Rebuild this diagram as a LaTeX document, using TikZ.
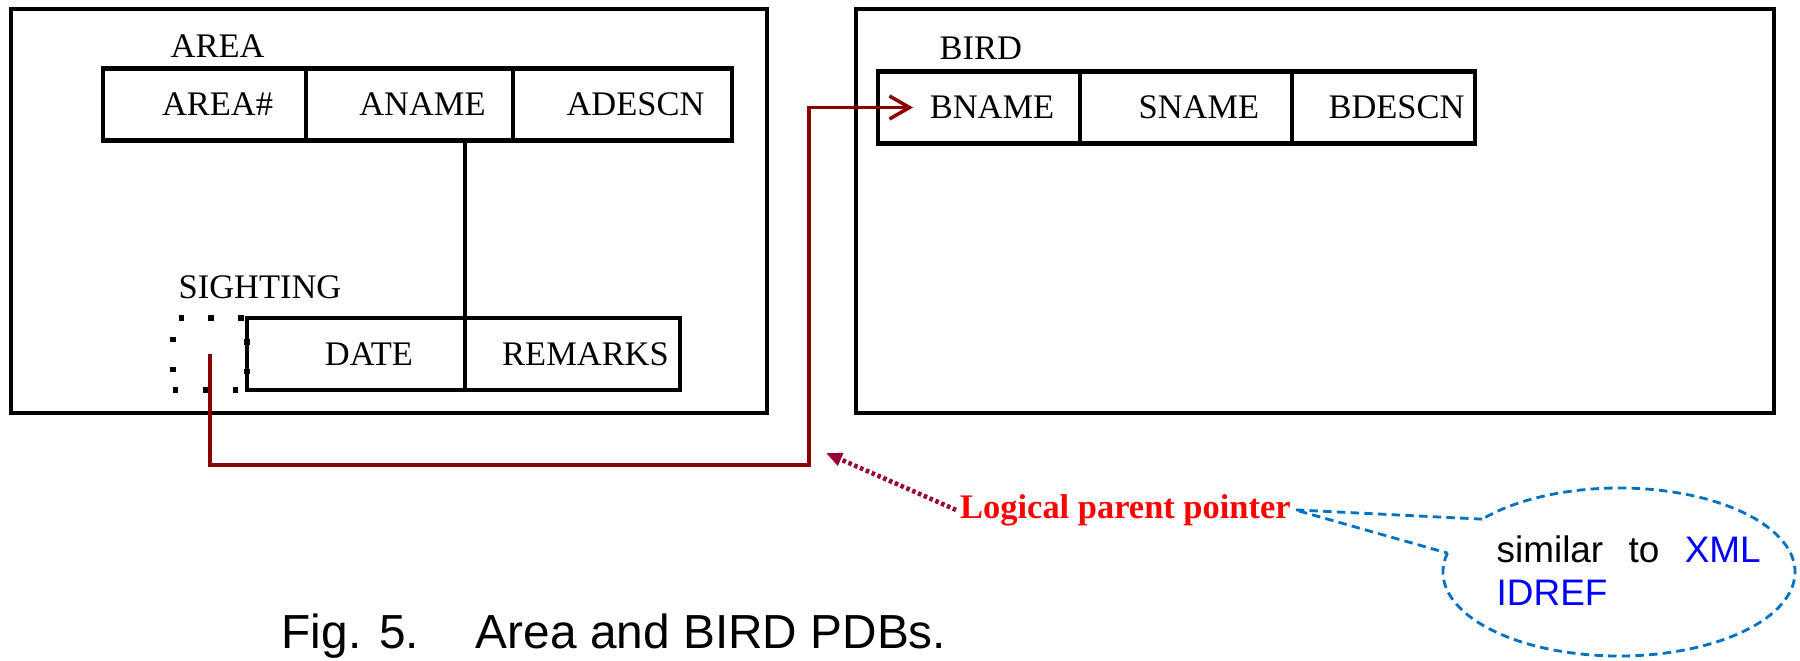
\documentclass[tikz,border=0pt]{standalone}
\usepackage{fontspec}
\setmainfont{Liberation Serif}
\newfontfamily\arialfont{Liberation Sans}
\usetikzlibrary{positioning,arrows.meta,shapes.geometric}
\definecolor{linkred}{RGB}{139,0,0}
\definecolor{ptrred}{RGB}{153,0,51}
\definecolor{calloutblue}{RGB}{0,112,192}

\begin{document}
\begin{tikzpicture}[
    cell/.style ={rectangle, draw, line width=1.4pt, outer sep=0pt, inner sep=0pt, minimum height=0.72cm, font=\fontsize{9.8}{12}\selectfont, execute at begin node={\hspace*{0.26cm}}},
    segname/.style ={inner sep=0pt, anchor=west, font=\fontsize{9.8}{12}\selectfont},
    callout/.style ={calloutblue, line width=0.8pt, dash pattern=on 2.4pt off 1.5pt}]
  \useasboundingbox (0,0) rectangle (18,6.6);
  \draw[line width=1.2pt] (0.11,6.51) rectangle (7.67,2.47);
  \draw[line width=1.2pt] (8.56,6.51) rectangle (17.74,2.47);
  \node[cell, minimum width=2.03cm, anchor=west] (areano) at (1.03,5.555) {AREA\#};
  \node[cell, minimum width=2.07cm, right=0pt of areano] (aname) {ANAME};
  \node[cell, minimum width=2.19cm, right=0pt of aname] (adescn) {ADESCN};
  \node[segname] (area) at (1.70,6.14) {AREA};
  \node[cell, minimum width=2.18cm, anchor=west] (date) at (2.47,3.06) {DATE};
  \node[cell, minimum width=2.15cm, right=0pt of date] (remarks) {REMARKS};
  \node[segname] (sighting) at (1.78,3.73) {SIGHTING};
  \node[rectangle, draw, line width=1.5pt, dash pattern=on 1.5pt off 7pt, minimum width=0.74cm, minimum height=0.72cm, outer sep=0pt, left=0pt of date] (keybox) {};
  \draw[line width=1.3pt] (date.north east) -- (date.north east |- aname.south);
  \node[cell, minimum width=2.02cm, anchor=west] (bname) at (8.78,5.525) {BNAME};
  \node[cell, minimum width=2.12cm, right=0pt of bname] (sname) {SNAME};
  \node[cell, minimum width=1.83cm, right=0pt of sname] (bdescn) {BDESCN};
  \node[segname] (bird) at (9.39,6.12) {BIRD};
  \coordinate (bend) at (8.09,1.95);
  \coordinate (tip) at ([xshift=0.35cm]bname.west);
  \draw[linkred, line width=1pt, -{Straight Barb[length=2mm,width=2.3mm]}] (keybox.center) |- (bend) |- (tip);
  \node[text=red, inner sep=1pt, anchor=base west, font=\fontsize{9.8}{12}\selectfont\bfseries] (lpp) at (9.56,1.42) {Logical parent pointer};
  \coordinate (ptr) at (8.26,2.07);
  \draw[ptrred, line width=1.3pt, dash pattern=on 1pt off 0.8pt, -{Triangle[length=1.6mm,width=1.3mm]}] (lpp.west) -- (ptr);
  \node[ellipse, minimum width=3.52cm, minimum height=1.68cm, inner sep=0pt] (bubble) at (16.19,0.88) {};
  \coordinate (nibtop) at ([shift={(141:1.76 and 0.84)}]bubble.center);
  \coordinate (nibbot) at ([shift={(167:1.76 and 0.84)}]bubble.center);
  \draw[callout] (nibbot) arc[start angle=167, end angle=501, x radius=1.76, y radius=0.84];
  \draw[callout] (nibtop) -- (lpp.east) -- (nibbot);
  \node[anchor=north west, align=left, inner sep=0pt, font=\arialfont\fontsize{10.5}{12.2}\selectfont] (note) at (14.96,1.245) {\makebox[2.64cm][s]{similar to \textcolor{blue}{XML}}\\\textcolor{blue}{IDREF}};
  \node[anchor=base west, inner sep=0pt, font=\arialfont\fontsize{13.6}{16}\selectfont] (caption) at (2.81,0.12) {Fig. 5.\hspace{0.57cm}Area and BIRD PDBs.};
\end{tikzpicture}
\end{document}
